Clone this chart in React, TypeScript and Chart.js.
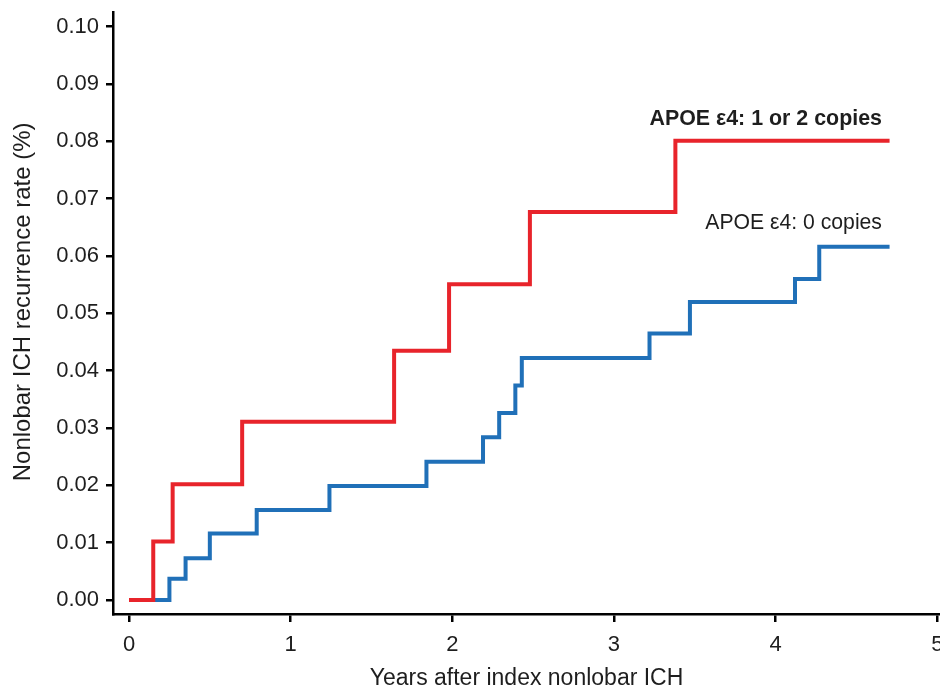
import { useEffect, useRef } from "react";
import { Chart, registerables } from "chart.js";

Chart.register(...registerables);

const redTimes = [0, 0.15, 0.27, 0.70, 1.64, 1.98, 2.48, 3.38, 4.705];
const redRates = [0, 0.0102, 0.0202, 0.0311, 0.0435, 0.0551, 0.0677, 0.0801, 0.0801];

const blueTimes = [0, 0.25, 0.35, 0.50, 0.79, 1.24, 1.84, 2.19, 2.29, 2.39, 2.43, 3.22, 3.47, 4.12, 4.27, 4.705];
const blueRates = [0, 0.0037, 0.0073, 0.0116, 0.0157, 0.0199, 0.0241, 0.0284, 0.0326, 0.0374, 0.0422, 0.0465, 0.0520, 0.0560, 0.0616, 0.0616];

const xTickValues = [0, 1, 2, 3, 4, 5];
const yTickValues = [0, 0.01, 0.02, 0.03, 0.04, 0.05, 0.06, 0.07, 0.08, 0.09, 0.10];

const redLabel = "APOE ε4: 1 or 2 copies";
const blueLabel = "APOE ε4: 0 copies";
const xTitle = "Years after index nonlobar ICH";
const yTitle = "Nonlobar ICH recurrence rate (%)";

const FONT = '"Liberation Sans", Arial, Helvetica, sans-serif';
const TEXT = "#1e1e1e";
const RED = "#e8242b";
const BLUE = "#2070b8";

const labelPlugin = {
  id: "seriesLabels",
  afterDraw(chart: any) {
    const { ctx, scales } = chart;
    const x = scales.x;
    const y = scales.y;
    ctx.save();
    ctx.fillStyle = TEXT;
    ctx.textAlign = "right";
    ctx.textBaseline = "middle";
    ctx.font = `bold 21.4px ${FONT}`;
    ctx.fillText(redLabel, x.getPixelForValue(4.658), y.getPixelForValue(0.0839));
    ctx.font = `21.2px ${FONT}`;
    ctx.fillText(blueLabel, x.getPixelForValue(4.658), y.getPixelForValue(0.0658));
    // y-axis title
    ctx.translate(23, y.getPixelForValue(0.052));
    ctx.rotate(-Math.PI / 2);
    ctx.textAlign = "center";
    ctx.font = `24px ${FONT}`;
    ctx.fillText(yTitle, 0, 0);
    ctx.restore();
  },
};

export default function App() {
  const ref = useRef<HTMLCanvasElement | null>(null);

  useEffect(() => {
    if (!ref.current) return;
    const chart = new Chart(ref.current, {
      type: "line",
      data: {
        datasets: [
          {
            label: redLabel,
            data: redTimes.map((t, i) => ({ x: t, y: redRates[i] })),
            borderColor: RED,
            borderWidth: 4,
            stepped: true,
            pointRadius: 0,
            fill: false,
            borderCapStyle: "butt",
            borderJoinStyle: "miter",
          },
          {
            label: blueLabel,
            data: blueTimes.map((t, i) => ({ x: t, y: blueRates[i] })),
            borderColor: BLUE,
            borderWidth: 4,
            stepped: true,
            pointRadius: 0,
            fill: false,
            borderCapStyle: "butt",
            borderJoinStyle: "miter",
          },
        ],
      },
      options: {
        animation: false,
        responsive: false,
        devicePixelRatio: 1,
        layout: { padding: { top: 12, left: 0, right: 0, bottom: 0 } },
        plugins: {
          legend: { display: false },
          tooltip: { enabled: false },
        },
        scales: {
          x: {
            type: "linear",
            min: -0.099,
            max: 5.017,
            afterBuildTicks: (scale: any) => {
              scale.ticks = xTickValues.map((v) => ({ value: v }));
            },
            afterFit: (scale: any) => {
              scale.height = 78;
              scale.paddingLeft = 0;
              scale.paddingRight = 0;
            },
            grid: {
              display: true,
              drawOnChartArea: false,
              drawTicks: true,
              tickLength: 8,
              color: "#000",
              lineWidth: 2.5,
            },
            border: { display: true, color: "#000", width: 2.5 },
            ticks: {
              color: TEXT,
              font: { family: FONT, size: 22 },
              padding: 10,
              maxRotation: 0,
              autoSkip: false,
              callback: (v: any) => String(v),
            },
            title: {
              display: true,
              text: xTitle,
              color: TEXT,
              font: { family: FONT, size: 23 },
              padding: 0,
            },
          },
          y: {
            type: "linear",
            min: -0.00244,
            max: 0.10257,
            afterBuildTicks: (scale: any) => {
              scale.ticks = yTickValues.map((v) => ({ value: v }));
            },
            afterFit: (scale: any) => {
              scale.width = 113;
              scale.paddingTop = 0;
              scale.paddingBottom = 0;
            },
            grid: {
              display: true,
              drawOnChartArea: false,
              drawTicks: true,
              tickLength: 7,
              color: "#000",
              lineWidth: 2.5,
            },
            border: { display: true, color: "#000", width: 2.5 },
            ticks: {
              color: TEXT,
              font: { family: FONT, size: 22 },
              padding: 7,
              autoSkip: false,
              callback: (v: any) => Number(v).toFixed(2),
            },
          },
        },
      },
      plugins: [labelPlugin],
    });
    return () => chart.destroy();
  }, []);

  return (
    <div style={{ position: "absolute", left: 0, top: 0, width: 940, height: 692, background: "#fff" }}>
      <canvas ref={ref} width={940} height={692} style={{ display: "block" }} />
    </div>
  );
}
